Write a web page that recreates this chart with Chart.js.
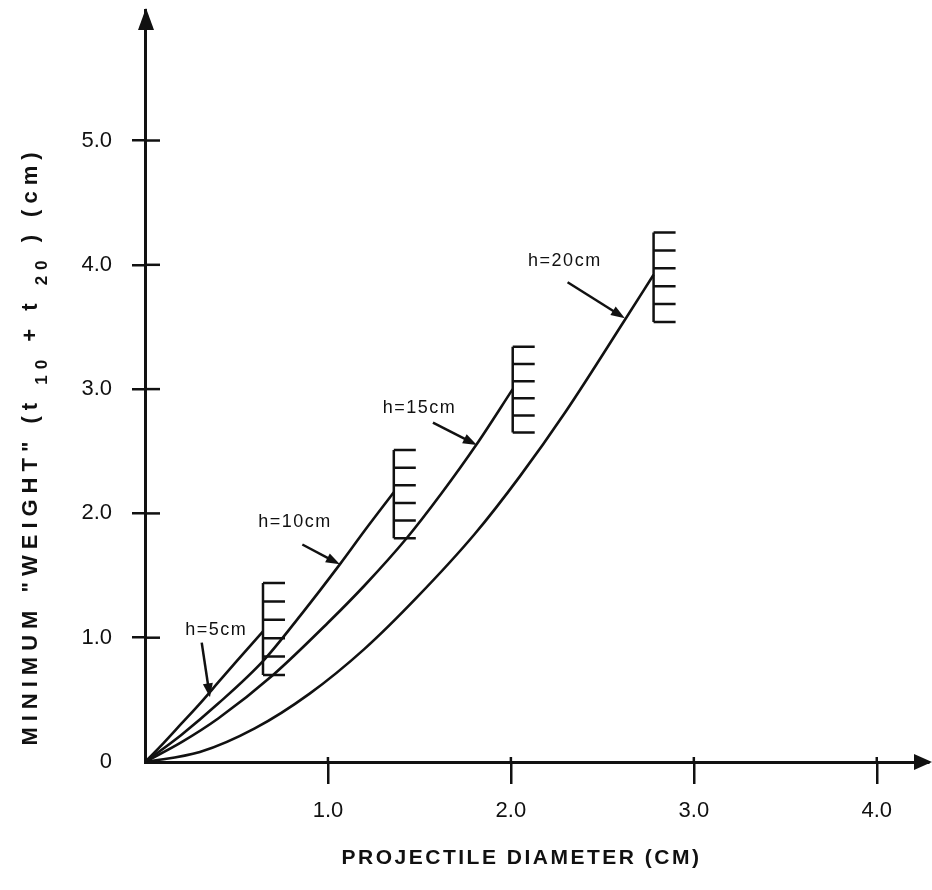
<!DOCTYPE html>
<html>
<head>
<meta charset="utf-8">
<script src="https://cdn.jsdelivr.net/npm/chart.js@4/dist/chart.umd.min.js"></script>
<style>
  html, body { margin: 0; padding: 0; background: #fff; }
</style>
</head>
<body>
<canvas id="weightChart" width="932" height="890"></canvas>
<script>
// tick values
const xTicks = [1, 2, 3, 4];
const yTicks = [0, 1, 2, 3, 4, 5];

// curves: projectile diameter (cm) vs minimum weight (cm), one per height h
const diameter5 = [0, 0.1, 0.2, 0.3, 0.4, 0.5, 0.645];
const weight5 = [0, 0.15, 0.31, 0.47, 0.64, 0.81, 1.05];

const diameter10 = [0, 0.2, 0.4, 0.65, 0.85, 1.065, 1.2, 1.36];
const weight10 = [0, 0.22, 0.47, 0.82, 1.18, 1.59, 1.86, 2.17];

const diameter15 = [0, 0.2, 0.4, 0.7, 1.0, 1.2, 1.43, 1.62, 1.81, 2.01];
const weight15 = [0, 0.16, 0.35, 0.70, 1.12, 1.42, 1.80, 2.16, 2.55, 3.0];

const diameter20 = [0, 0.3, 0.6, 0.9, 1.2, 1.49, 1.8, 2.05, 2.3, 2.62, 2.78];
const weight20 = [0, 0.08, 0.27, 0.55, 0.91, 1.33, 1.83, 2.30, 2.82, 3.55, 3.92];

// hatched end markers
const hatchDiameter = [0.645, 1.36, 2.01, 2.78];
const hatchTop = [1.44, 2.51, 3.34, 4.26];
const hatchBottom = [0.70, 1.80, 2.65, 3.54];

// curve labels and their arrows (data units)
const labelText = ['h=5cm', 'h=10cm', 'h=15cm', 'h=20cm'];
const labelX = [0.39, 0.82, 1.50, 2.295];
const labelY = [1.06, 1.93, 2.85, 4.03];
const arrowFromX = [0.31, 0.86, 1.574, 2.31];
const arrowFromY = [0.96, 1.75, 2.73, 3.86];
const arrowToX = [0.355, 1.065, 1.814, 2.623];
const arrowToY = [0.52, 1.59, 2.55, 3.57];

const INK = '#111';
const FONT = '"Liberation Sans", Arial, sans-serif';

function toPoints(xs, ys) {
    return xs.map((x, i) => ({ x: x, y: ys[i] }));
}

function curve(xs, ys) {
    return {
        data: toPoints(xs, ys),
        showLine: true,
        borderColor: INK,
        borderWidth: 2.6,
        pointRadius: 0,
        tension: 0.4,
        cubicInterpolationMode: 'monotone'
    };
}

function arrow(ctx, x1, y1, x2, y2) {
    const a = Math.atan2(y2 - y1, x2 - x1);
    ctx.beginPath();
    ctx.moveTo(x1, y1);
    ctx.lineTo(x2 - 8 * Math.cos(a), y2 - 8 * Math.sin(a));
    ctx.stroke();
    ctx.beginPath();
    ctx.moveTo(x2, y2);
    ctx.lineTo(x2 - 14 * Math.cos(a) + 5 * Math.sin(a), y2 - 14 * Math.sin(a) - 5 * Math.cos(a));
    ctx.lineTo(x2 - 14 * Math.cos(a) - 5 * Math.sin(a), y2 - 14 * Math.sin(a) + 5 * Math.cos(a));
    ctx.closePath();
    ctx.fill();
}

// draws text pieces one after another; dy shifts a piece down (subscript)
function richText(ctx, parts, spacing) {
    let total = 0;
    parts.forEach(p => {
        ctx.font = p.font;
        ctx.letterSpacing = spacing + 'px';
        p.w = ctx.measureText(p.text).width;
        total += p.w;
    });
    let x = -total / 2;
    parts.forEach(p => {
        ctx.font = p.font;
        ctx.letterSpacing = spacing + 'px';
        ctx.fillText(p.text, x, p.dy || 0);
        x += p.w;
    });
}

const decorations = {
    id: 'decorations',
    afterDraw(chart) {
        const ctx = chart.ctx;
        const xs = chart.scales.x;
        const ys = chart.scales.y;
        const area = chart.chartArea;
        ctx.save();
        ctx.strokeStyle = INK;
        ctx.fillStyle = INK;
        ctx.lineCap = 'butt';

        // inner halves of the tick marks
        ctx.lineWidth = 2.5;
        yTicks.filter(v => v > 0).forEach(v => {
            const py = ys.getPixelForValue(v);
            ctx.beginPath();
            ctx.moveTo(area.left, py);
            ctx.lineTo(area.left + 15, py);
            ctx.stroke();
        });
        xTicks.forEach(v => {
            const px = xs.getPixelForValue(v);
            ctx.beginPath();
            ctx.moveTo(px, area.bottom);
            ctx.lineTo(px, area.bottom - 5);
            ctx.stroke();
        });

        // axis arrow heads
        ctx.beginPath();
        ctx.moveTo(area.left + 1, area.top - 2);
        ctx.lineTo(area.left - 7, area.top + 20);
        ctx.lineTo(area.left + 9, area.top + 20);
        ctx.closePath();
        ctx.fill();
        ctx.beginPath();
        ctx.moveTo(area.right + 4, area.bottom);
        ctx.lineTo(area.right - 14, area.bottom - 8);
        ctx.lineTo(area.right - 14, area.bottom + 8);
        ctx.closePath();
        ctx.fill();

        // hatched markers at curve ends
        ctx.lineWidth = 2.5;
        hatchDiameter.forEach((d, i) => {
            const px = xs.getPixelForValue(d);
            const top = ys.getPixelForValue(hatchTop[i]);
            const bot = ys.getPixelForValue(hatchBottom[i]);
            ctx.beginPath();
            ctx.moveTo(px, top);
            ctx.lineTo(px, bot);
            for (let k = 0; k < 6; k++) {
                const py = top + (bot - top) * k / 5;
                ctx.moveTo(px, py);
                ctx.lineTo(px + 22, py);
            }
            ctx.stroke();
        });

        // labels with arrows
        ctx.lineWidth = 2.5;
        labelText.forEach((t, i) => {
            arrow(ctx,
                xs.getPixelForValue(arrowFromX[i]), ys.getPixelForValue(arrowFromY[i]),
                xs.getPixelForValue(arrowToX[i]), ys.getPixelForValue(arrowToY[i]));
            ctx.font = '18px ' + FONT;
            ctx.letterSpacing = '1.5px';
            ctx.textAlign = 'center';
            ctx.textBaseline = 'middle';
            ctx.fillText(t, xs.getPixelForValue(labelX[i]), ys.getPixelForValue(labelY[i]));
        });

        // axis titles
        ctx.textAlign = 'left';
        ctx.textBaseline = 'middle';
        ctx.save();
        ctx.translate((area.left + area.right) / 2 - 15, 858);
        richText(ctx, [{ text: 'PROJECTILE DIAMETER (CM)', font: 'bold 21px ' + FONT }], 2.5);
        ctx.restore();

        ctx.save();
        ctx.translate(31, 446);
        ctx.rotate(-Math.PI / 2);
        richText(ctx, [
            { text: 'MINIMUM "WEIGHT"', font: 'bold 22px ' + FONT },
            { text: ' (t ', font: 'bold 22px ' + FONT },
            { text: '10', font: 'bold 17px ' + FONT, dy: 11 },
            { text: ' + t ', font: 'bold 22px ' + FONT },
            { text: '20', font: 'bold 17px ' + FONT, dy: 11 },
            { text: ' ) (cm)', font: 'bold 22px ' + FONT }
        ], 6);
        ctx.restore();

        ctx.restore();
    }
};

const tickFont = { family: FONT, size: 22 };

new Chart(document.getElementById('weightChart').getContext('2d'), {
    type: 'scatter',
    data: {
        datasets: [
            curve(diameter5, weight5),
            curve(diameter10, weight10),
            curve(diameter15, weight15),
            curve(diameter20, weight20)
        ]
    },
    options: {
        responsive: false,
        devicePixelRatio: 1,
        animation: false,
        layout: { padding: { left: 60, top: 10, right: 4, bottom: 0 } },
        plugins: {
            legend: { display: false },
            tooltip: { enabled: false }
        },
        scales: {
            x: {
                type: 'linear',
                min: 0,
                max: 4.28,
                afterBuildTicks: s => { s.ticks = xTicks.map(v => ({ value: v })); },
                afterFit: s => { s.height = 128; s.paddingLeft = 0; s.paddingRight = 0; },
                ticks: {
                    color: INK,
                    font: tickFont,
                    padding: 14,
                    maxRotation: 0,
                    callback: v => v.toFixed(1)
                },
                grid: {
                    drawOnChartArea: false,
                    drawTicks: true,
                    tickLength: 22,
                    color: INK,
                    lineWidth: 2.5
                },
                border: { color: INK, width: 3 }
            },
            y: {
                type: 'linear',
                min: 0,
                max: 6.05,
                afterBuildTicks: s => { s.ticks = yTicks.map(v => ({ value: v })); },
                afterFit: s => { s.width = 85; s.paddingTop = 0; s.paddingBottom = 0; },
                ticks: {
                    color: INK,
                    font: tickFont,
                    padding: 20,
                    callback: v => v === 0 ? '0' : v.toFixed(1)
                },
                grid: {
                    drawOnChartArea: false,
                    drawTicks: true,
                    tickLength: 13,
                    color: c => c.tick && c.tick.value === 0 ? 'rgba(0,0,0,0)' : INK,
                    lineWidth: 2.5
                },
                border: { color: INK, width: 3 }
            }
        }
    },
    plugins: [decorations]
});
</script>
</body>
</html>
